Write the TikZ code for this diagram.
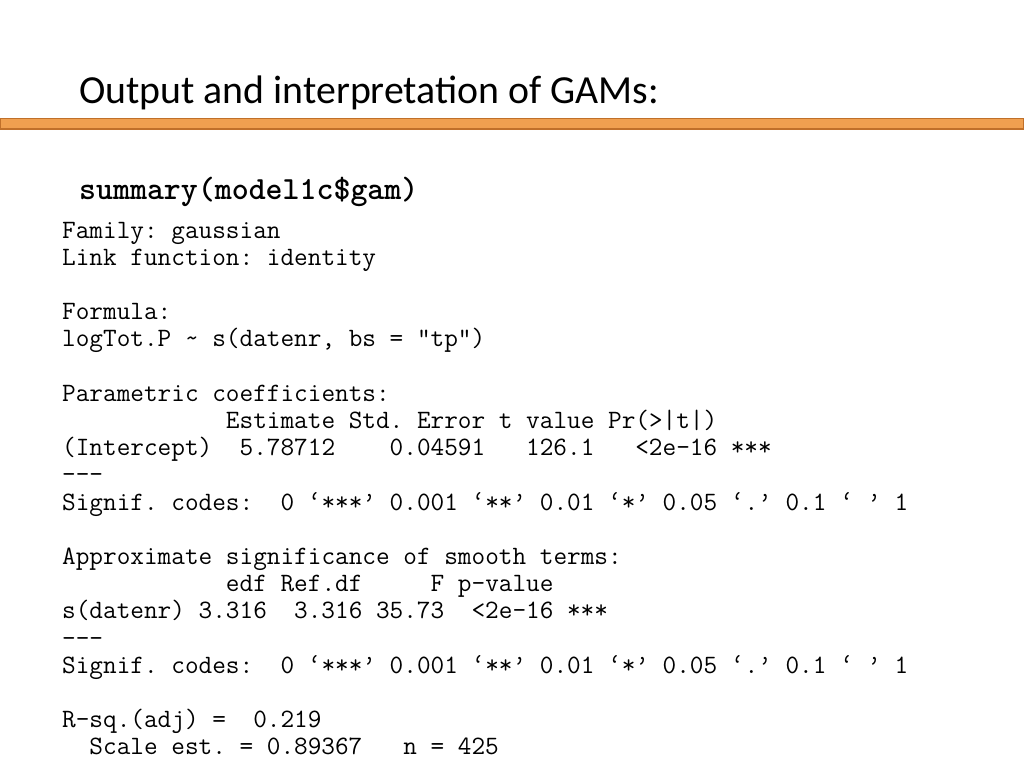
\documentclass[tikz,border=0pt]{standalone}
\usepackage{fontspec}
\setmainfont{Carlito}
\begin{document}
\begin{tikzpicture}[x=1pt,y=-1pt,
  codeline/.style={anchor=base west,inner sep=0pt,font=\ttfamily\fontsize{26.5}{30}\selectfont}]
\definecolor{barfill}{HTML}{F0A050}
\definecolor{barline}{HTML}{C0702A}
\useasboundingbox[fill=white] (0,0) rectangle (1024,768);
\fill[barfill,draw=barline,line width=1.5pt] (0,118.5) rectangle (1024,129);
\node[anchor=base west,inner sep=0pt,font=\fontsize{39.8}{44}\selectfont] (title) at (79,103) {Output and interpretation of GAMs:};
\node[anchor=base west,inner sep=0pt,font=\ttfamily\bfseries\fontsize{32.3}{36}\selectfont] (cmd) at (79,199) {summary(model1c\$gam)};
\foreach \i/\t in {
0/{Family:~gaussian},
1/{Link~function:~identity},
3/{Formula:},
4/{logTot.P~\textasciitilde~s(datenr,~bs~=~"tp")},
6/{Parametric~coefficients:},
7/{~~~~~~~~~~~~Estimate~Std.~Error~t~value~Pr(>|t|)},
8/{(Intercept)~~5.78712~~~~0.04591~~~126.1~~~<2e-16~***},
9/{---},
10/{Signif.~codes:~~0~‘***’~0.001~‘**’~0.01~‘*’~0.05~‘.’~0.1~‘~’~1},
12/{Approximate~significance~of~smooth~terms:},
13/{~~~~~~~~~~~~edf~Ref.df~~~~~F~p-value},
14/{s(datenr)~3.316~~3.316~35.73~~<2e-16~***},
15/{---},
16/{Signif.~codes:~~0~‘***’~0.001~‘**’~0.01~‘*’~0.05~‘.’~0.1~‘~’~1},
18/{R-sq.(adj)~=~~0.219},
19/{~~Scale~est.~=~0.89367~~~n~=~425}}
  \node[codeline] (l\i) at (62,{238+27.2*\i}) {\t};
\end{tikzpicture}
\end{document}
